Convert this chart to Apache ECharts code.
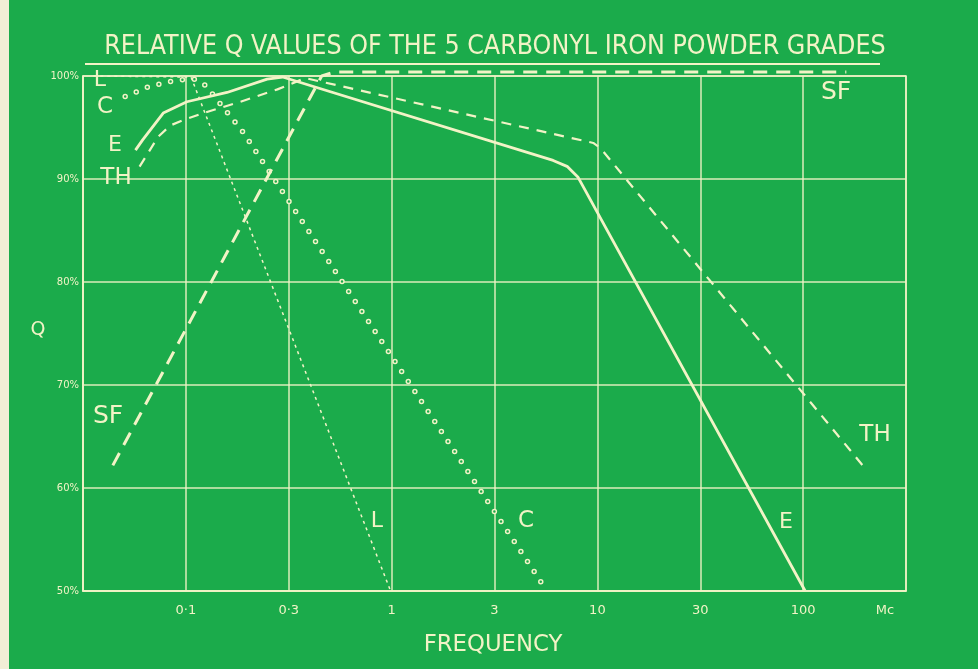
<!DOCTYPE html>
<html><head><meta charset="utf-8">
<script src="https://cdn.jsdelivr.net/npm/echarts@6/dist/echarts.min.js"></script>
<style>html,body{margin:0;padding:0;background:#1bab4b}#c{width:978px;height:669px}</style>
</head><body><div id="c"></div>
<script>
// Frequency axis is drawn with equal spacing per 1-3-10 step: position 0 = 0.03 Mc ... 8 = 300 Mc
const xTickLabels = ['', '0·1', '0·3', '1', '3', '10', '30', '100', ''];
const yTicks = [50, 60, 70, 80, 90, 100];

// Curve L (fine dotted)
const lX = [0.10, 1.05, 2.99];
const lY = [100, 99.9, 50];
// Curve C (small circles)
const cX = [0.41, 0.65, 0.91, 1.09, 1.19, 1.56, 4.51];
const cY = [98.0, 99.0, 99.6, 99.7, 99.1, 94.5, 50];
// Curve E (solid)
const eX = [0.51, 0.58, 0.78, 1.01, 1.40, 1.79, 1.94, 4.57, 4.71, 4.81, 7.02];
const eY = [92.8, 93.8, 96.4, 97.5, 98.4, 99.7, 99.9, 91.8, 91.2, 90.2, 50];
// Curve TH (dashed)
const thX = [0.55, 0.73, 0.85, 0.97, 1.17, 1.53, 1.89, 2.16, 4.96, 5.03, 7.62];
const thY = [91.2, 94.1, 95.2, 95.7, 96.4, 97.5, 98.7, 99.8, 93.5, 93.0, 61.7];
// Curve SF (long dashes)
const sfX = [0.29, 2.32, 2.45, 7.42];
const sfY = [62.2, 100, 100.4, 100.4];

const pairs = (xs, ys) => xs.map((x, i) => [x, ys[i]]);

const CREAM = '#f2f3c6';
const BG = '#1bab4b';
const chart = echarts.init(document.getElementById('c'), null, {renderer: 'canvas'});

function lineSeries(name, data, style) {
  return Object.assign({
    name, type: 'line', data, symbol: 'none', showSymbol: false, clip: false,
    smooth: false, silent: true, animation: false
  }, {lineStyle: style});
}

const labelFont = 'DejaVu Sans';
function tag(text, x, y, size) {
  return {type: 'text', x, y, style: {text, fill: CREAM, font: (size || 23) + 'px "' + labelFont + '"', textAlign: 'center', textVerticalAlign: 'middle'}};
}

chart.setOption({
  backgroundColor: BG,
  animation: false,
  grid: {left: 83, right: 72, top: 76, bottom: 78, show: true, borderColor: CREAM, borderWidth: 1.5},
  xAxis: {
    type: 'value', min: 0, max: 8, interval: 1,
    axisLine: {show: true, lineStyle: {color: CREAM, width: 1.5}},
    axisTick: {show: false},
    splitLine: {show: true, lineStyle: {color: CREAM, width: 1.5, opacity: 0.9}},
    axisLabel: {color: CREAM, fontSize: 13, margin: 13, fontFamily: 'DejaVu Sans',
      formatter: v => xTickLabels[Math.round(v)] || ''}
  },
  yAxis: {
    type: 'value', min: yTicks[0], max: yTicks[yTicks.length - 1], interval: 10,
    axisLine: {show: true, lineStyle: {color: CREAM, width: 1.5}},
    axisTick: {show: false},
    splitLine: {show: true, lineStyle: {color: CREAM, width: 1.5, opacity: 0.9}},
    axisLabel: {color: CREAM, fontSize: 10, margin: 4, fontFamily: 'DejaVu Sans',
      formatter: v => v + '%'}
  },
  series: [
    lineSeries('L', pairs(lX, lY), {color: CREAM, width: 1.5, type: [3, 4]}),
    lineSeries('C', pairs(cX, cY), {color: CREAM, width: 5.5, type: [0, 12], cap: 'round'}),
    lineSeries('C-inner', pairs(cX, cY), {color: BG, width: 2.5, type: [0, 12], cap: 'round'}),
    lineSeries('E', pairs(eX, eY), {color: CREAM, width: 2.8}),
    lineSeries('TH', pairs(thX, thY), {color: CREAM, width: 2.2, type: [10, 8]}),
    lineSeries('SF', pairs(sfX, sfY), {color: CREAM, width: 3, type: [14, 9]})
  ],
  graphic: [
    {type: 'rect', shape: {x: 0, y: 0, width: 9, height: 669}, style: {fill: '#f2eed6'}},
    {type: 'text', x: 495, y: 47, scaleX: 1.02, style: {text: 'RELATIVE Q VALUES OF THE 5 CARBONYL IRON POWDER GRADES', fill: CREAM,
      font: '26px "DejaVu Sans Condensed"', textAlign: 'center', textVerticalAlign: 'middle'}},
    {type: 'line', shape: {x1: 85, y1: 64, x2: 880, y2: 64}, style: {stroke: CREAM, lineWidth: 2}},
    {type: 'text', x: 38, y: 330, style: {text: 'Q', fill: CREAM, font: '19px "DejaVu Sans"', textAlign: 'center', textVerticalAlign: 'middle'}},
    {type: 'text', x: 493, y: 645, scaleX: 1.1, style: {text: 'FREQUENCY', fill: CREAM, font: '23px "DejaVu Sans Condensed"', textAlign: 'center', textVerticalAlign: 'middle'}},
    {type: 'text', x: 885, y: 611, style: {text: 'Mc', fill: CREAM, font: '13px "DejaVu Sans"', textAlign: 'center', textVerticalAlign: 'middle'}},
    tag('L', 100, 80, 22),
    tag('C', 105, 107),
    tag('E', 115, 145, 22),
    tag('TH', 116, 178),
    tag('SF', 108, 416, 25),
    tag('SF', 836, 92, 25),
    tag('L', 377, 521, 22),
    tag('C', 526, 521),
    tag('E', 786, 522, 22),
    tag('TH', 875, 435)
  ]
});
</script></body></html>
